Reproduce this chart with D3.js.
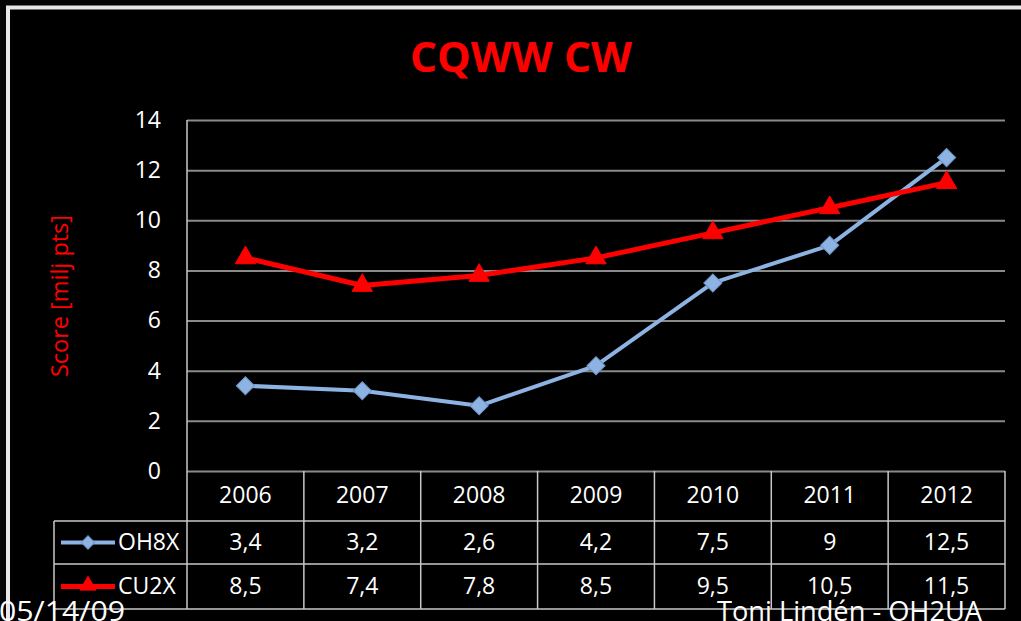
<!DOCTYPE html>
<html>
<script src="https://d3js.org/d3.v7.min.js"></script>

<head>
    <style>
        body {
            margin: 0;
            background-color: #050505;
            overflow: hidden;
        }

        svg {
            display: block;
            font-family: "Open Sans", "DejaVu Sans", sans-serif;
        }
    </style>
</head>

<body>
</body>
<script>
    const width = 1021,
        height = 621;

    // data
    const years = ["2006", "2007", "2008", "2009", "2010", "2011", "2012"];
    const seriesNames = ["OH8X", "CU2X"];
    const oh8x = [3.4, 3.2, 2.6, 4.2, 7.5, 9, 12.5];
    const cu2x = [8.5, 7.4, 7.8, 8.5, 9.5, 10.5, 11.5];
    const yTicks = [0, 2, 4, 6, 8, 10, 12, 14];

    const SERIES = [
        { name: seriesNames[0], values: oh8x, color: "#8db3e2", stroke: "#6f95c6", symbol: "diamond", lw: 4 },
        { name: seriesNames[1], values: cu2x, color: "#ff0000", stroke: "#ff0000", symbol: "triangle", lw: 5 }
    ];

    const svg = d3.select("body").append("svg").attr("width", width).attr("height", height);

    const plot = { left: 187, right: 1005, top: 120, bottom: 471 };
    const rowH = [50, 43, 45]; // header, row1, row2

    const x = d3.scaleBand().domain(years).range([plot.left, plot.right]);
    const y = d3.scaleLinear().domain([0, 14]).range([plot.bottom, plot.top]);

    function symbolPath(kind, size) {
        if (kind === "diamond") return d3.symbol(d3.symbolSquare, size)();
        return d3.symbol(d3.symbolTriangle, size)();
    }

    function draw() {
        // slide frame
        svg.append("rect")
            .attr("x", 8).attr("y", 7.5)
            .attr("width", 1100).attr("height", 800)
            .attr("fill", "#000")
            .attr("stroke", "#e8e8e8")
            .attr("stroke-width", 4);

        svg.append("text")
            .attr("x", 521)
            .attr("y", 72)
            .attr("text-anchor", "middle")
            .attr("font-size", 42)
            .attr("font-weight", "bold")
            .attr("fill", "#ff0000")
            .attr("textLength", 222)
            .attr("lengthAdjust", "spacingAndGlyphs")
            .text("CQWW CW");

        // y axis with gridlines
        const yAxis = svg.append("g")
            .attr("transform", `translate(${plot.left},0)`)
            .call(d3.axisLeft(y).tickValues(yTicks).tickSize(-(plot.right - plot.left)).tickPadding(26));
        yAxis.select(".domain").remove();
        yAxis.selectAll(".tick line").attr("stroke", "#8a8a8a").attr("stroke-width", 2);
        yAxis.selectAll(".tick text")
            .attr("fill", "#fff")
            .attr("font-size", 23)
            .attr("font-family", "Open Sans");

        svg.append("text")
            .attr("transform", `translate(68,296) rotate(-90)`)
            .attr("text-anchor", "middle")
            .attr("font-size", 23)
            .attr("fill", "#ff0000")
            .attr("textLength", 162)
            .attr("lengthAdjust", "spacingAndGlyphs")
            .text("Score [milj pts]");

        // table
        const tTop = plot.bottom,
            r1 = tTop + rowH[0],
            r2 = r1 + rowH[1],
            tBottom = r2 + rowH[2],
            legLeft = 54;
        const tbl = svg.append("g").attr("stroke", "#c8c8c8").attr("stroke-width", 1.5);
        tbl.append("line").attr("x1", legLeft).attr("x2", plot.right).attr("y1", r1).attr("y2", r1);
        tbl.append("line").attr("x1", legLeft).attr("x2", plot.right).attr("y1", r2).attr("y2", r2);
        tbl.append("line").attr("x1", legLeft).attr("x2", plot.right).attr("y1", tBottom).attr("y2", tBottom);
        tbl.append("line").attr("x1", legLeft).attr("x2", legLeft).attr("y1", r1).attr("y2", tBottom);
        tbl.selectAll(".col").data(years.slice(1))
            .enter().append("line")
            .attr("x1", d => x(d)).attr("x2", d => x(d))
            .attr("y1", tTop).attr("y2", tBottom);
        tbl.append("line").attr("x1", plot.right).attr("x2", plot.right).attr("y1", tTop).attr("y2", tBottom);

        // y axis line (runs down through the table)
        svg.append("line")
            .attr("x1", plot.left).attr("x2", plot.left)
            .attr("y1", plot.top).attr("y2", tBottom)
            .attr("stroke", "#c8c8c8").attr("stroke-width", 1.5);

        svg.selectAll(".year").data(years)
            .enter().append("text")
            .attr("x", d => x(d) + x.bandwidth() / 2)
            .attr("y", tTop + rowH[0] / 2 + 1)
            .attr("text-anchor", "middle")
            .attr("dominant-baseline", "middle")
            .attr("font-size", 23)
            .attr("fill", "#fff")
            .text(d => d);

        const rowY = [r1 + rowH[1] / 2, r2 + rowH[2] / 2];
        SERIES.forEach((s, i) => {
            svg.selectAll(".v" + i).data(s.values)
                .enter().append("text")
                .attr("x", (d, j) => x(years[j]) + x.bandwidth() / 2)
                .attr("y", rowY[i] + 1)
                .attr("text-anchor", "middle")
                .attr("dominant-baseline", "middle")
                .attr("font-size", 23)
                .attr("fill", "#fff")
                .text(d => d.toString().replace(".", ","));

            // legend key
            svg.append("line")
                .attr("x1", 61).attr("x2", 115)
                .attr("y1", rowY[i]).attr("y2", rowY[i])
                .attr("stroke", s.color).attr("stroke-width", s.lw);
            svg.append("path")
                .attr("d", symbolPath(s.symbol, s.symbol === "diamond" ? 90 : 110))
                .attr("transform", `translate(88,${rowY[i] + (s.symbol === "triangle" ? -1 : 0)})` + (s.symbol === "diamond" ? " rotate(45)" : ""))
                .attr("fill", s.color)
                .attr("stroke", s.stroke);
            svg.append("text")
                .attr("x", 118)
                .attr("y", rowY[i] + 1)
                .attr("dominant-baseline", "middle")
                .attr("font-size", 23)
                .attr("fill", "#fff")
                .text(s.name);
        });

        // lines
        const line = d3.line()
            .x((d, j) => x(years[j]) + x.bandwidth() / 2)
            .y(d => y(d));
        SERIES.forEach(s => {
            svg.append("path")
                .datum(s.values)
                .attr("d", line)
                .attr("fill", "none")
                .attr("stroke", s.color)
                .attr("stroke-width", s.lw)
                .attr("stroke-linejoin", "round");
            svg.selectAll(null).data(s.values)
                .enter().append("path")
                .attr("d", symbolPath(s.symbol, s.symbol === "diamond" ? 165 : 180))
                .attr("transform", (d, j) => `translate(${x(years[j]) + x.bandwidth() / 2},${y(d)})` + (s.symbol === "diamond" ? " rotate(45)" : ""))
                .attr("fill", s.color)
                .attr("stroke", s.stroke)
                .attr("stroke-width", 1);
        });

        // footer (partly cut off by the slide edge, as on the plate)
        svg.append("text")
            .attr("x", -1).attr("y", 621)
            .attr("font-size", 27)
            .attr("fill", "#fff")
            .attr("textLength", 126)
            .attr("lengthAdjust", "spacingAndGlyphs")
            .text("05/14/09");
        svg.append("text")
            .attr("x", 717).attr("y", 621)
            .attr("font-size", 27)
            .attr("fill", "#fff")
            .attr("textLength", 265)
            .attr("lengthAdjust", "spacingAndGlyphs")
            .text("Toni Lindén - OH2UA");
    }

    draw();
</script>

</html>
